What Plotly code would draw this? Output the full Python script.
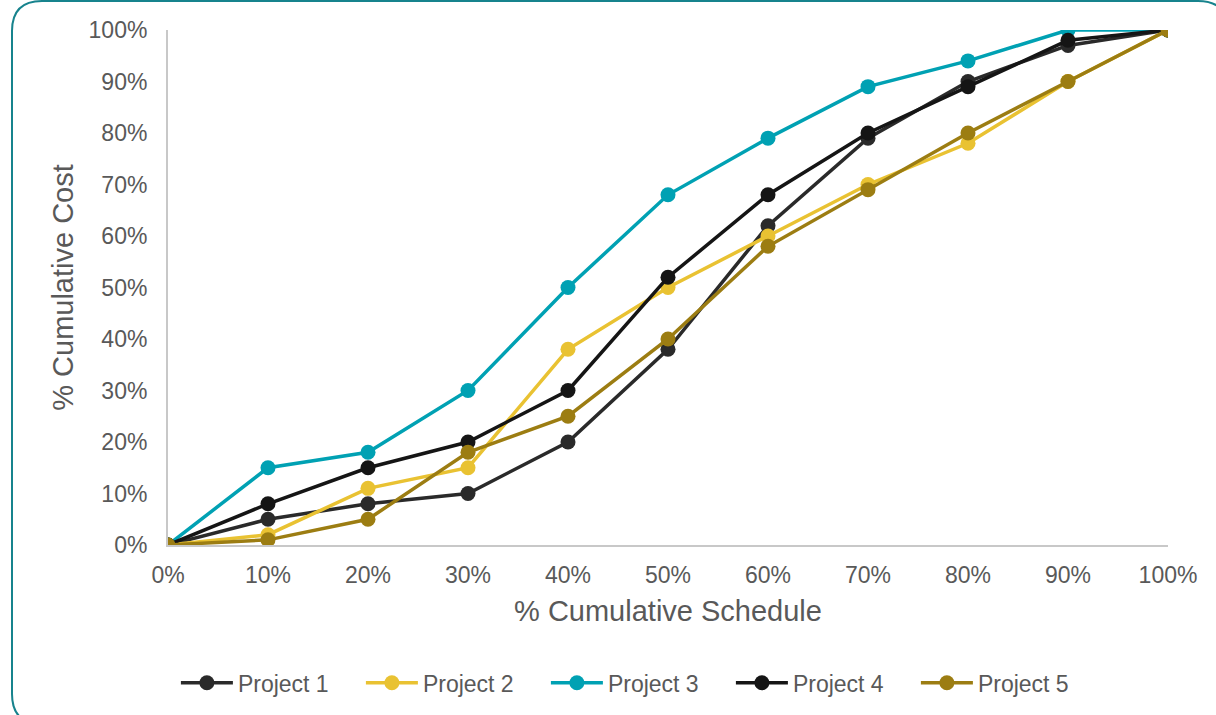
import plotly.graph_objects as go

# Cumulative schedule (x) vs cumulative cost (y), in percent
schedule = [0, 10, 20, 30, 40, 50, 60, 70, 80, 90, 100]
project_1 = [0, 5, 8, 10, 20, 38, 62, 79, 90, 97, 100]
project_2 = [0, 2, 11, 15, 38, 50, 60, 70, 78, 90, 100]
project_3 = [0, 15, 18, 30, 50, 68, 79, 89, 94, 100, 100]
project_4 = [0, 8, 15, 20, 30, 52, 68, 80, 89, 98, 100]
project_5 = [0, 1, 5, 18, 25, 40, 58, 69, 80, 90, 100]

names = ["Project 1", "Project 2", "Project 3", "Project 4", "Project 5"]
colors = ["#2a2a2a", "#e9c232", "#00a1b3", "#151515", "#9c7d12"]
series = [project_1, project_2, project_3, project_4, project_5]

W, H = 1216, 715
L, R, T, B = 168, 48, 30, 170
FONT = "Liberation Sans, Arial, sans-serif"
TXT = "#595959"

fig = go.Figure()
for name, col, ys in zip(names, colors, series):
    fig.add_trace(go.Scatter(
        x=schedule, y=ys, name=name, mode="lines+markers",
        line=dict(color=col, width=3.5),
        marker=dict(color=col, size=15),
    ))


# Rounded frame around the whole chart, drawn in paper coordinates
def px(x):
    return (x - L) / (W - L - R)


def py(y):
    return (H - B - y) / (H - T - B)


x0, y0, x1, y1, r = 12, 1, 1228, 724, 30
path = (
    f"M {px(x0 + r)},{py(y0)} L {px(x1 - r)},{py(y0)} "
    f"Q {px(x1)},{py(y0)} {px(x1)},{py(y0 + r)} "
    f"L {px(x1)},{py(y1 - r)} Q {px(x1)},{py(y1)} {px(x1 - r)},{py(y1)} "
    f"L {px(x0 + r)},{py(y1)} Q {px(x0)},{py(y1)} {px(x0)},{py(y1 - r)} "
    f"L {px(x0)},{py(y0 + r)} Q {px(x0)},{py(y0)} {px(x0 + r)},{py(y0)} Z"
)

fig.update_layout(
    width=W, height=H,
    margin=dict(l=L, r=R, t=T, b=B),
    paper_bgcolor="white", plot_bgcolor="white",
    font=dict(family=FONT, color=TXT, size=23),
    shapes=[dict(type="path", path=path, xref="paper", yref="paper",
                 line=dict(color="#17838d", width=2), layer="below")],
    xaxis=dict(
        range=[0, 100], tickvals=schedule,
        ticktext=[f"{v}%" for v in schedule],
        showgrid=False, zeroline=False, showline=True,
        linecolor="#c8c8c8", linewidth=2, ticks="",
        ticklabelstandoff=8,
        tickfont=dict(size=23, color=TXT),
        title=dict(text="% Cumulative Schedule", standoff=14,
                   font=dict(size=29, color=TXT)),
    ),
    yaxis=dict(
        range=[0, 100], tickvals=schedule,
        ticktext=[f"{v}%" for v in schedule],
        showgrid=False, zeroline=False, showline=True,
        linecolor="#c8c8c8", linewidth=2, ticks="",
        ticklabelstandoff=14,
        tickfont=dict(size=23, color=TXT),
        title=dict(text="% Cumulative Cost", standoff=6,
                   font=dict(size=29, color=TXT)),
    ),
    legend=dict(
        orientation="h", xref="container", x=0.525, xanchor="center",
        yref="container", y=0.045, yanchor="middle",
        font=dict(size=23, color=TXT),
        entrywidth=118, entrywidthmode="pixels", itemwidth=52,
    ),
    showlegend=True,
)

fig.write_html("out.html")
